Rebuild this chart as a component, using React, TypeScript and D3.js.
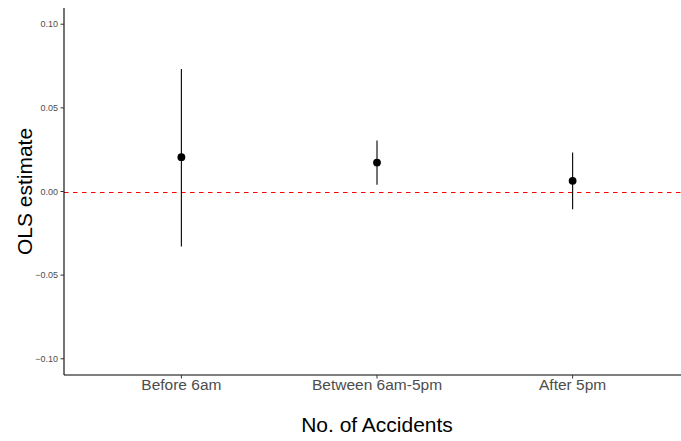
import * as d3 from "d3";

const categories = ["Before 6am", "Between 6am-5pm", "After 5pm"];
const estimates = [0.0205, 0.0173, 0.0064];
const lowerCI = [-0.0329, 0.004, -0.0106];
const upperCI = [0.0733, 0.0305, 0.0233];
const yTicks = [-0.1, -0.05, 0, 0.05, 0.1];

const W = 681;
const H = 441;
const FONT = "'Liberation Sans', Arial, Helvetica, sans-serif";

export default function App() {
  const left = 64;
  const top = 8;
  const bottom = 375;

  const x = d3.scalePoint<string>().domain(categories).range([left, 690]).padding(0.6);
  const y = d3.scaleLinear().domain([-0.1097, 0.1097]).range([bottom, top]);

  const rows = categories.map((c, i) => ({
    cat: c,
    est: estimates[i],
    lo: lowerCI[i],
    hi: upperCI[i],
  }));

  return (
    <svg
      width={W}
      height={H}
      style={{ position: "absolute", left: 0, top: 0, background: "#fff" }}
      fontFamily={FONT}
    >
      {/* zero reference line */}
      <line
        x1={left}
        x2={W}
        y1={Math.round(y(0)) + 0.5}
        y2={Math.round(y(0)) + 0.5}
        style={{ stroke: "red" }}
        strokeWidth={1.2}
        strokeDasharray="4.5 4.5"
      />

      {/* error bars + points */}
      {rows.map((d) => (
        <g key={d.cat}>
          <line
            x1={x(d.cat)}
            x2={x(d.cat)}
            y1={y(d.lo)}
            y2={y(d.hi)}
            stroke="#000"
            strokeWidth={1.1}
          />
          <circle cx={x(d.cat)} cy={y(d.est)} r={3.9} fill="#000" />
        </g>
      ))}

      {/* y axis */}
      <line x1={left} x2={left} y1={top} y2={bottom} stroke="#000" strokeWidth={1.1} />
      {yTicks.map((t) => (
        <g key={t} transform={`translate(0,${y(t)})`}>
          <line x1={left - 3.5} x2={left} stroke="#333" strokeWidth={1} />
          <text
            x={left - 6}
            dy="0.35em"
            textAnchor="end"
            fontSize={9}
            fill="#4d4d4d"
          >
            {d3.format(".2f")(t)}
          </text>
        </g>
      ))}

      {/* x axis */}
      <line x1={left} x2={W} y1={bottom} y2={bottom} stroke="#000" strokeWidth={1.1} />
      {categories.map((c) => (
        <g key={c} transform={`translate(${x(c)},0)`}>
          <line y1={bottom} y2={bottom + 3.5} stroke="#333" strokeWidth={1} />
          <text y={390} textAnchor="middle" fontSize={15.5} fill="#4d4d4d">
            {c}
          </text>
        </g>
      ))}

      {/* titles */}
      <text x={(left + 690) / 2} y={432} textAnchor="middle" fontSize={21} fill="#000">
        No. of Accidents
      </text>
      <text
        transform={`translate(32,${(top + bottom) / 2}) rotate(-90)`}
        textAnchor="middle"
        fontSize={21}
        fill="#000"
      >
        OLS estimate
      </text>
    </svg>
  );
}
